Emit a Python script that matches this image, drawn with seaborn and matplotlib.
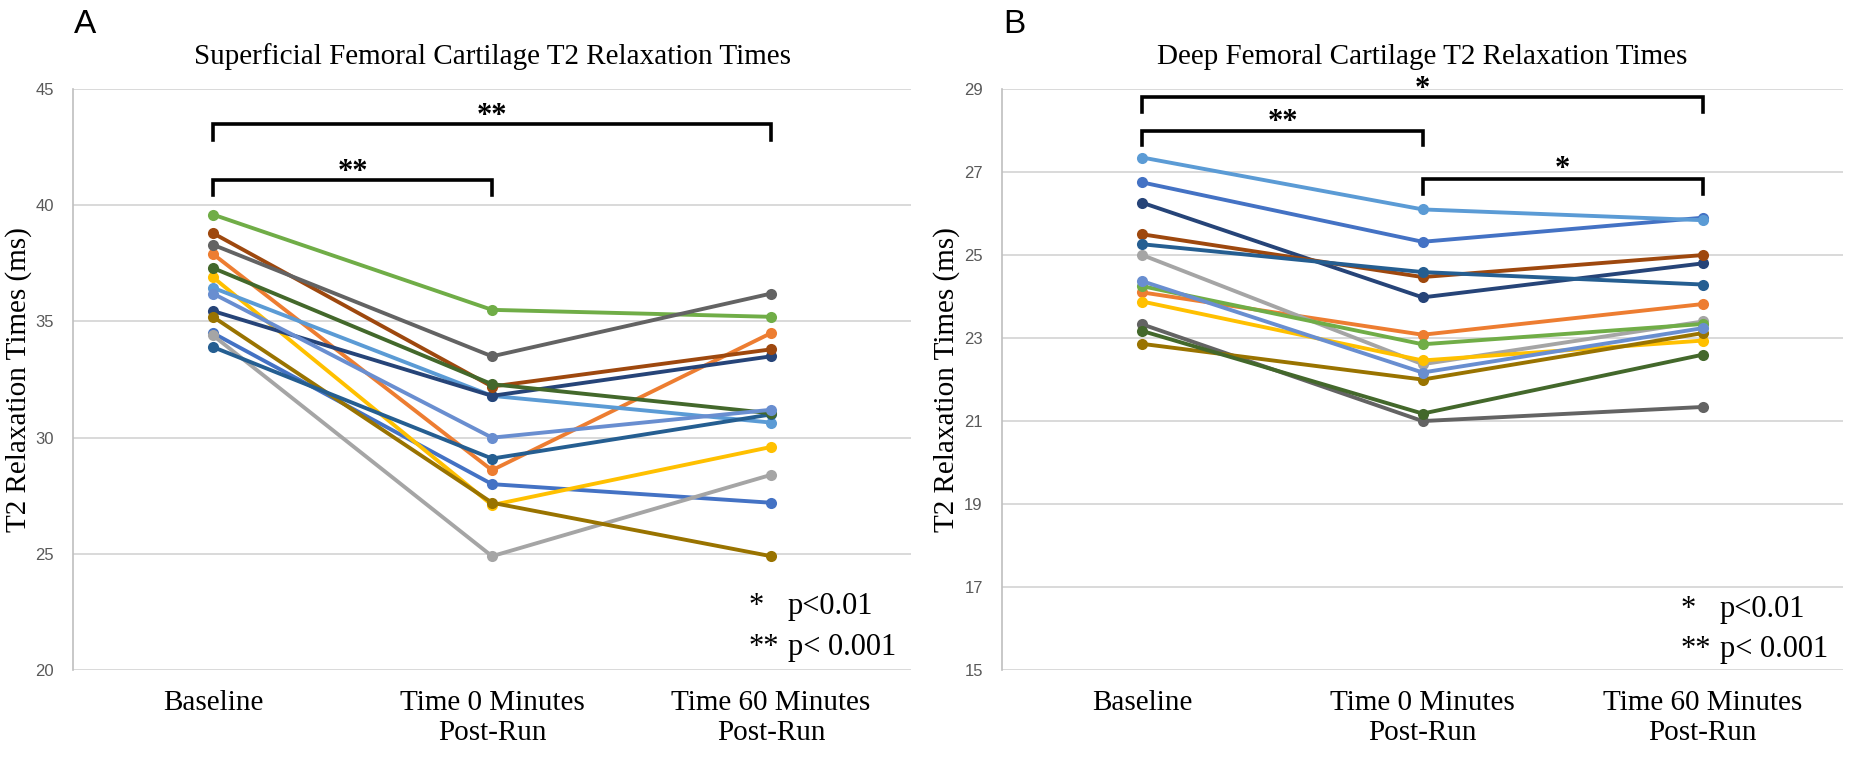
import pandas as pd
import matplotlib
matplotlib.use('Agg')
import matplotlib.pyplot as plt
import seaborn as sns

# 시점 라벨
timepoints = ['Baseline', 'Time 0 Minutes\nPost-Run', 'Time 60 Minutes\nPost-Run']

# Excel 기본 팔레트 순서 (13명)
colors = ['#4472C4', '#ED7D31', '#A5A5A5', '#FFC000', '#5B9BD5', '#70AD47',
          '#264478', '#9E480E', '#636363', '#997300', '#255E91', '#43682B', '#698ED0']

# 표층 연골 T2 (ms)
sup_baseline = [34.5, 37.9, 34.4, 36.9, 36.45, 39.6, 35.45, 38.8, 38.3, 35.2, 33.9, 37.3, 36.2]
sup_t0 = [28.0, 28.6, 24.9, 27.1, 31.8, 35.5, 31.8, 32.2, 33.5, 27.2, 29.1, 32.3, 30.0]
sup_t60 = [27.2, 34.5, 28.4, 29.6, 30.65, 35.2, 33.5, 33.8, 36.2, 24.9, 31.0, 31.05, 31.2]

# 심층 연골 T2 (ms)
deep_baseline = [26.75, 24.1, 25.0, 23.88, 27.35, 24.25, 26.26, 25.5, 23.33, 22.86, 25.26, 23.17, 24.37]
deep_t0 = [25.32, 23.08, 22.37, 22.46, 26.1, 22.85, 23.98, 24.47, 21.0, 22.0, 24.59, 21.18, 22.17]
deep_t60 = [25.9, 23.82, 23.4, 22.94, 25.84, 23.34, 24.8, 25.0, 21.34, 23.12, 24.29, 22.6, 23.24]


def to_long(base, t0, t60):
    rows = []
    for i in range(len(base)):
        for t, v in zip(timepoints, [base[i], t0[i], t60[i]]):
            rows.append({'subject': i, 'time': t, 'value': v})
    return pd.DataFrame(rows)


df_sup = to_long(sup_baseline, sup_t0, sup_t60)
df_deep = to_long(deep_baseline, deep_t0, deep_t60)

serif = 'Liberation Serif'
sans = 'Liberation Sans'

fig = plt.figure(figsize=(18.56, 7.58), dpi=100)
ax1 = fig.add_axes([0.0396, 0.116, 0.451, 0.7665])
ax2 = fig.add_axes([0.540, 0.116, 0.453, 0.7665])


def style_axis(ax, df, title, ylim, yticks):
    sns.lineplot(data=df, x='time', y='value', hue='subject', palette=colors,
                 marker='o', markersize=8, markeredgewidth=0, linewidth=2.8,
                 legend=False, sort=False, errorbar=None, ax=ax)
    ax.set_xlim(-0.5, 2.5)
    ax.set_ylim(*ylim)
    ax.set_yticks(yticks)
    ax.set_xticks(range(3), timepoints, fontsize=21, fontfamily=serif)
    for lab in ax.get_yticklabels():
        lab.set_fontfamily(sans)
    ax.tick_params(axis='y', length=0, pad=14, labelsize=12, labelcolor='#595959')
    ax.tick_params(axis='x', length=0, pad=14)
    ax.yaxis.grid(True, color='#D9D9D9', lw=1.4)
    ax.set_axisbelow(True)
    for s in ['top', 'right', 'bottom']:
        ax.spines[s].set_visible(False)
    ax.spines['left'].set_color('#BFBFBF')
    ax.spines['left'].set_linewidth(1.2)
    ax.set_xlabel('')
    ax.set_ylabel('T2 Relaxation Times (ms)', fontsize=21, fontfamily=serif)
    ax.yaxis.set_label_coords(-0.05, 0.5)
    ax.set_title(title, fontsize=21, fontfamily=serif, pad=18)


def bracket(ax, x0, x1, y, drop, label, ty):
    ax.plot([x0, x0, x1, x1], [y - drop, y, y, y - drop], color='black', lw=2.6,
            clip_on=False, solid_joinstyle='miter')
    ax.text((x0 + x1) / 2, ty, label, ha='center', va='center', fontsize=22,
            fontweight='bold', fontfamily=serif, clip_on=False)


def pnote(ax, y1, y2):
    ax.text(1.92, y1, '*', ha='left', va='center', fontsize=22, fontfamily=serif)
    ax.text(2.06, y1, 'p<0.01', ha='left', va='center', fontsize=22, fontfamily=serif)
    ax.text(1.92, y2, '**', ha='left', va='center', fontsize=22, fontfamily=serif)
    ax.text(2.06, y2, 'p< 0.001', ha='left', va='center', fontsize=22, fontfamily=serif)


# A: 표층
style_axis(ax1, df_sup, 'Superficial Femoral Cartilage T2 Relaxation Times', (20, 45), range(20, 46, 5))
bracket(ax1, 0, 2, 43.5, 0.7, '**', 43.8)
bracket(ax1, 0, 1, 41.1, 0.65, '**', 41.4)
pnote(ax1, 22.75, 20.95)

# B: 심층
style_axis(ax2, df_deep, 'Deep Femoral Cartilage T2 Relaxation Times', (15, 29), range(15, 30, 2))
bracket(ax2, 0, 2, 28.8, 0.35, '*', 29.0)
bracket(ax2, 0, 1, 28.0, 0.34, '**', 28.2)
bracket(ax2, 1, 2, 26.83, 0.37, '*', 27.05)
pnote(ax2, 16.45, 15.5)

fig.text(74 / 1856, 1 - 33 / 758, 'A', fontsize=24, fontfamily=sans, va='baseline')
fig.text(1003 / 1856, 1 - 33 / 758, 'B', fontsize=24, fontfamily=sans, va='baseline')

fig.savefig('out.png', dpi=100)
